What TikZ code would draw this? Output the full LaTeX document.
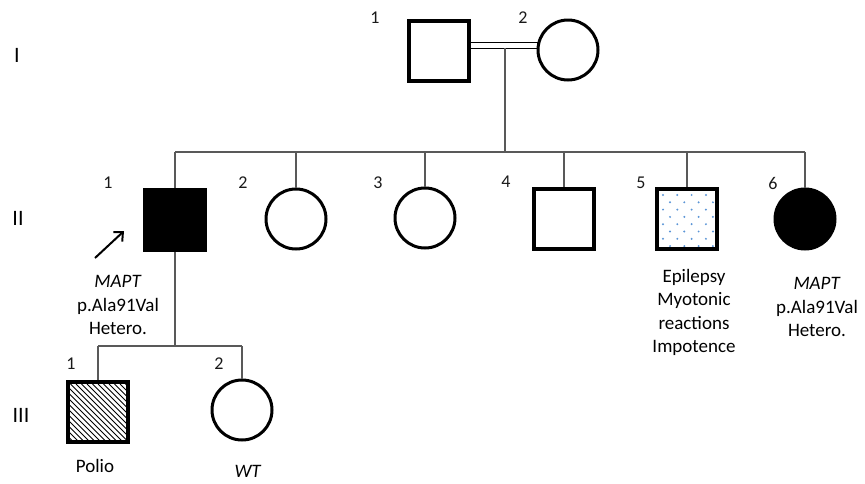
\documentclass[tikz,border=0pt]{standalone}
\usepackage{fontspec}
\setmainfont{Carlito}
\usetikzlibrary{arrows.meta}
\definecolor{linegray}{HTML}{595959}
\definecolor{dotblue}{HTML}{5B95D6}
\begin{document}
\begin{tikzpicture}[x=1pt,y=-1pt,
  male/.style={rectangle,draw=black,line width=3.6pt,minimum size=60pt,inner sep=0pt},
  female/.style={circle,draw=black,line width=3pt,minimum size=60pt,inner sep=0pt},
  affected/.style={fill=black},
  conn/.style={draw=linegray,line width=1.1pt},
  idlabel/.style={font=\fontsize{18}{21}\selectfont,text=black!90,inner sep=0pt},
  gen/.style={font=\fontsize{22}{26}\selectfont,inner sep=0pt},
  note/.style={font=\fontsize{19}{23.2}\selectfont,align=center,inner sep=0pt}]
\useasboundingbox (0,0) rectangle (865,483);

% generation labels
\node[gen] (gI)   at (17,55)  {I};
\node[gen] (gII)  at (18,218) {II};
\node[gen] (gIII) at (21,415) {III};

% generation I
\node[male]   (I1) at (439,51) {};
\node[female] (I2) at (568,50) {};
\node[idlabel] (lI1) at (375,18) {1};
\node[idlabel] (lI2) at (523,18) {2};
\coordinate (m1a) at (471,42);
\coordinate (m1b) at (538,42);
\coordinate (m2a) at (471,48);
\coordinate (m2b) at (538,48);
\draw[black,line width=1pt] (m1a) -- (m1b) (m2a) -- (m2b);
\coordinate (mate) at (505,48);
\coordinate (sib)  at (505,152);
\draw[conn] (mate) -- (sib);

% generation II
\node[male,affected] (II1) at (175,220) {};
\node[female] (II2) at (296,219) {};
\node[female] (II3) at (425,218) {};
\node[male]   (II4) at (564,219) {};
\node[male]   (II5) at (687,219) {};
\node[female,affected] (II6) at (805,219) {};

\draw[conn] (II1.north |- sib) -- (II6.north |- sib);
\foreach \c in {II1,II2,II3,II4,II5,II6}
  \draw[conn] (\c.north |- sib) -- (\c.north);

% dotted shading of II-5
\begin{scope}
  \clip (659,189) rectangle (716,249);
  \foreach \r in {0,...,7}{
    \pgfmathsetmacro{\yy}{195+7.3*\r}
    \pgfmathsetmacro{\xo}{mod(\r,2)==0 ? 663 : 670}
    \foreach \k in {0,...,3}
      \fill[dotblue] (\xo+14.3*\k,\yy) circle (1.1pt);
  }
\end{scope}
\node[male] at (II5) {};

\node[idlabel] (lII1) at (108,183) {1};
\node[idlabel] (lII2) at (243,183) {2};
\node[idlabel] (lII3) at (378,183) {3};
\node[idlabel] (lII4) at (506,182) {4};
\node[idlabel] (lII5) at (641,183) {5};
\node[idlabel] (lII6) at (773,183) {6};

% proband arrow
\coordinate (arrtail) at (95,258);
\coordinate (arrhead) at (124,231);
\draw[line width=2pt,-{Straight Barb[length=7pt,width=13pt,line width=2pt]}] (arrtail) -- (arrhead);

\node[note] (nII1) at (118,305) {\textit{MAPT}\\p.Ala91Val\\Hetero.};
\node[note] (nII5) at (694,312.5) {Epilepsy\\Myotonic\\reactions\\Impotence};
\node[note] (nII6) at (817,307) {\textit{MAPT}\\p.Ala91Val\\Hetero.};

% generation III
\node[male]   (III1) at (98,412) {};
\node[female] (III2) at (242,410) {};
\coordinate (sibIII) at (175,346);
\draw[conn] (II1.south) -- (sibIII);
\draw[conn] (III1.north |- sibIII) -- (III2.north |- sibIII);
\draw[conn] (III1.north |- sibIII) -- (III1.north);
\draw[conn] (III2.north |- sibIII) -- (III2.north);

% hatched shading of III-1
\begin{scope}
  \clip (70,384) rectangle (126,440);
  \foreach \i in {-60,-54.5,...,60}
    \draw[black,line width=0.8pt] (70+\i,384) -- (134+\i,448);
\end{scope}
\node[male] at (III1) {};

\node[idlabel] (lIII1) at (71,364) {1};
\node[idlabel] (lIII2) at (219,364) {2};
\node[note] (nIII1) at (95,466) {Polio};
\node[note] (nIII2) at (248,471) {\textit{WT}};
\end{tikzpicture}
\end{document}
